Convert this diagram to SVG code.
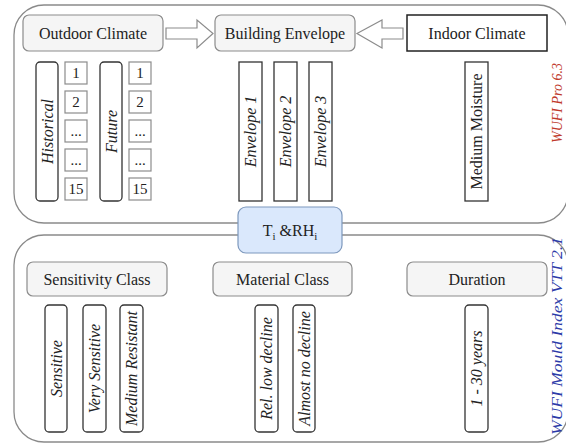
<svg xmlns="http://www.w3.org/2000/svg" width="566" height="444" viewBox="0 0 566 444" font-family="'Liberation Serif', 'DejaVu Serif', serif">
  <style>
    .frame { fill: #ffffff; stroke: #8a8a8a; stroke-width: 1.3; }
    .head { fill: #f5f5f5; stroke: #8c8c8c; stroke-width: 1.2; }
    .plain { fill: #ffffff; stroke: #222222; stroke-width: 1.5; }
    .bar { fill: #ffffff; stroke: #333333; stroke-width: 1.3; }
    .num { fill: #ffffff; stroke: #8c8c8c; stroke-width: 1.2; }
    .link { fill: #ffffff; stroke: #8c8c8c; stroke-width: 1.2; stroke-linejoin: miter; }
    .state { fill: #dae8fc; stroke: #7d98bd; stroke-width: 1.2; }
    text { font-family: 'Liberation Serif', 'DejaVu Serif', serif; fill: #222222; }
    .t16 { font-size: 16px; text-anchor: middle; dominant-baseline: central; }
    .it { font-style: italic; }
    .n { font-size: 15px; text-anchor: middle; dominant-baseline: central; }
    .side { font-size: 14px; font-style: italic; }
  </style>

  <!-- simulation and evaluation containers -->
  <g id="sim-frame">
    <rect class="frame" x="14" y="5" width="554" height="218" rx="30" ry="30"/>
    <text class="side" style="fill:#c0392b" transform="translate(562,143) rotate(-90)">WUFI Pro 6.3</text>
  </g>
  <g id="eval-frame">
    <rect class="frame" x="14" y="235" width="554" height="207" rx="30" ry="30"/>
    <text class="side" style="fill:#2c3aa8" transform="translate(562,435) rotate(-90)" textLength="198" lengthAdjust="spacingAndGlyphs">WUFI Mould Index VTT 2.1</text>
  </g>

  <!-- block arrows -->
  <g id="connectors">
    <path class="link" d="M166,28 H197 V20 L213,33.5 L197,48 V39 H166 Z"/>
    <path class="link" d="M403,28 H382 V20 L357,33.5 L382,48 V39 H403 Z"/>
  </g>

  <!-- top row -->
  <g id="outdoor-climate">
    <rect class="head" x="23" y="15" width="140" height="36" rx="6"/>
    <text class="t16" x="93" y="33">Outdoor Climate</text>
  </g>
  <g id="building-envelope">
    <rect class="head" x="215" y="15" width="140" height="36" rx="6"/>
    <text class="t16" x="285" y="33">Building Envelope</text>
  </g>
  <g id="indoor-climate">
    <rect class="plain" x="407" y="15" width="140" height="36"/>
    <text class="t16" x="477" y="33">Indoor Climate</text>
  </g>

  <!-- climate sets -->
  <g id="historical">
    <rect class="bar" x="36" y="62" width="22" height="139" rx="4"/>
    <text class="t16 it" transform="translate(47,131.5) rotate(-90)">Historical</text>
  </g>
  <g id="historical-years">
    <rect class="num" x="65" y="62" width="22" height="22"/>
    <text class="n" x="76" y="73">1</text>
    <rect class="num" x="65" y="91" width="22" height="22"/>
    <text class="n" x="76" y="102">2</text>
    <rect class="num" x="65" y="120" width="22" height="22"/>
    <text class="n" x="76" y="131">...</text>
    <rect class="num" x="65" y="149" width="22" height="22"/>
    <text class="n" x="76" y="160">...</text>
    <rect class="num" x="65" y="178" width="22" height="22"/>
    <text class="n" x="76" y="189">15</text>
  </g>
  <g id="future">
    <rect class="bar" x="100" y="62" width="22" height="139" rx="4"/>
    <text class="t16 it" transform="translate(111,131.5) rotate(-90)">Future</text>
  </g>
  <g id="future-years">
    <rect class="num" x="129" y="62" width="22" height="22"/>
    <text class="n" x="140" y="73">1</text>
    <rect class="num" x="129" y="91" width="22" height="22"/>
    <text class="n" x="140" y="102">2</text>
    <rect class="num" x="129" y="120" width="22" height="22"/>
    <text class="n" x="140" y="131">...</text>
    <rect class="num" x="129" y="149" width="22" height="22"/>
    <text class="n" x="140" y="160">...</text>
    <rect class="num" x="129" y="178" width="22" height="22"/>
    <text class="n" x="140" y="189">15</text>
  </g>

  <!-- envelope variants -->
  <g id="envelope-1">
    <rect class="bar" x="239" y="62" width="23" height="139"/>
    <text class="t16 it" transform="translate(250.5,131.5) rotate(-90)">Envelope 1</text>
  </g>
  <g id="envelope-2">
    <rect class="bar" x="274" y="62" width="23" height="139"/>
    <text class="t16 it" transform="translate(285.5,131.5) rotate(-90)">Envelope 2</text>
  </g>
  <g id="envelope-3">
    <rect class="bar" x="309" y="62" width="23" height="139"/>
    <text class="t16 it" transform="translate(320.5,131.5) rotate(-90)">Envelope 3</text>
  </g>

  <!-- indoor load -->
  <g id="medium-moisture">
    <rect class="bar" x="465" y="62" width="23" height="139"/>
    <text class="t16" transform="translate(476.5,131.5) rotate(-90)">Medium Moisture</text>
  </g>

  <!-- hand-over between the two stages -->
  <g id="ti-rhi">
    <rect class="state" x="238" y="207" width="104" height="46" rx="8"/>
    <text x="290" y="236" style="font-size:16px;text-anchor:middle">T<tspan dy="4" style="font-size:11px">i</tspan><tspan dy="-4"> &amp;RH</tspan><tspan dy="4" style="font-size:11px">i</tspan></text>
  </g>

  <!-- evaluation parameters -->
  <g id="sensitivity-class">
    <rect class="head" x="27" y="262" width="140" height="34" rx="6"/>
    <text class="t16" x="97" y="279">Sensitivity Class</text>
  </g>
  <g id="material-class">
    <rect class="head" x="213" y="262" width="139" height="34" rx="6"/>
    <text class="t16" x="282.5" y="279">Material Class</text>
  </g>
  <g id="duration">
    <rect class="head" x="407" y="262" width="140" height="34" rx="6"/>
    <text class="t16" x="477" y="279">Duration</text>
  </g>

  <g id="sensitive">
    <rect class="bar" x="45" y="305" width="22" height="127" rx="4"/>
    <text class="t16 it" transform="translate(56,368.5) rotate(-90)">Sensitive</text>
  </g>
  <g id="very-sensitive">
    <rect class="bar" x="83" y="305" width="23" height="127" rx="4"/>
    <text class="t16 it" transform="translate(94.5,368.5) rotate(-90)">Very Sensitive</text>
  </g>
  <g id="medium-resistant">
    <rect class="bar" x="120" y="305" width="23" height="127" rx="4"/>
    <text class="t16 it" transform="translate(131.5,368.5) rotate(-90)">Medium Resistant</text>
  </g>
  <g id="rel-low-decline">
    <rect class="bar" x="255" y="305" width="23" height="127" rx="4"/>
    <text class="t16 it" transform="translate(266.5,368.5) rotate(-90)">Rel. low decline</text>
  </g>
  <g id="almost-no-decline">
    <rect class="bar" x="293" y="305" width="22" height="127" rx="4"/>
    <text class="t16 it" transform="translate(304,368.5) rotate(-90)">Almost no decline</text>
  </g>
  <g id="years">
    <rect class="bar" x="465" y="305" width="23" height="127" rx="4"/>
    <text class="t16 it" transform="translate(476.5,368.5) rotate(-90)">1 - 30 years</text>
  </g>
</svg>
